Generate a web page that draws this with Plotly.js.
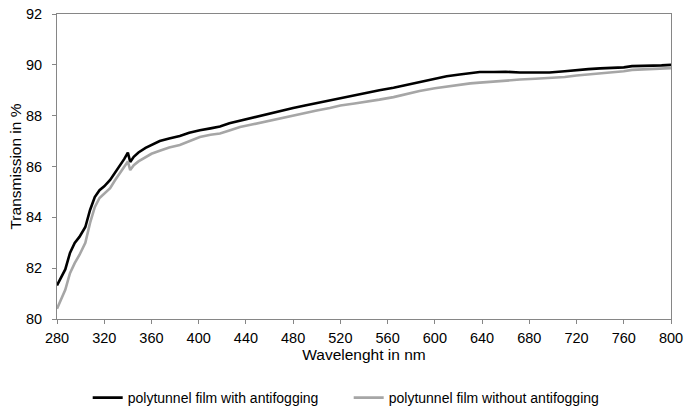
<!DOCTYPE html>
<html>
<head>
<meta charset="utf-8">
<script src="https://cdn.plot.ly/plotly-3.0.1.min.js"></script>
<style>html,body{margin:0;padding:0;background:#fff;}#chart{width:686px;height:410px;}</style>
</head>
<body>
<div id="chart"></div>
<script>
const wavelength = [280,283,287,291,295,299,304,308,312,316,320,325,329,333,337,340,342,345,349,355,360,367,375,384,392,401,410,418,426,435,445,455,469,480,490,500,511,520,532,545,553,565,575,587,600,610,621,630,638,650,660,672,685,697,710,720,730,740,750,760,767,775,785,792,800];
const withAntifogging = [81.32,81.6,81.95,82.6,82.99,83.23,83.62,84.29,84.8,85.07,85.22,85.47,85.75,86.0,86.3,86.55,86.18,86.38,86.55,86.73,86.85,87.0,87.1,87.2,87.33,87.43,87.5,87.57,87.7,87.8,87.92,88.05,88.2,88.3,88.4,88.5,88.6,88.7,88.8,88.92,89.0,89.1,89.2,89.32,89.45,89.55,89.62,89.68,89.72,89.72,89.73,89.7,89.7,89.7,89.75,89.8,89.83,89.86,89.88,89.9,89.95,89.95,89.97,89.98,90.0];
const withoutAntifogging = [80.4,80.75,81.15,81.8,82.2,82.52,83.0,83.78,84.4,84.76,84.95,85.15,85.45,85.74,86.0,86.2,85.86,86.05,86.2,86.37,86.5,86.62,86.75,86.85,87.0,87.16,87.25,87.3,87.42,87.55,87.65,87.75,87.92,88.0,88.1,88.2,88.3,88.4,88.48,88.56,88.63,88.73,88.85,88.97,89.08,89.15,89.2,89.27,89.3,89.35,89.38,89.42,89.45,89.48,89.52,89.58,89.62,89.65,89.7,89.75,89.8,89.82,89.83,89.85,89.87];
const xTicks = [280,320,360,400,440,480,520,560,600,640,680,720,760,800];
const yTicks = [80,82,84,86,88,90,92];
const seriesNames = ['polytunnel film with antifogging','polytunnel film without antifogging'];

const traces = [
  {x: wavelength, y: withAntifogging, type: 'scatter', mode: 'lines', name: seriesNames[0],
   line: {color: '#000000', width: 2.6}},
  {x: wavelength, y: withoutAntifogging, type: 'scatter', mode: 'lines', name: seriesNames[1],
   line: {color: '#a6a6a6', width: 2.6}}
];
const fontFam = 'Liberation Sans, Arial, sans-serif';
const layout = {
  width: 686, height: 410,
  margin: {l: 57, r: 15, t: 14, b: 91, autoexpand: false},
  paper_bgcolor: '#ffffff', plot_bgcolor: '#ffffff',
  font: {family: fontFam, size: 14, color: '#000'},
  showlegend: true,
  legend: {orientation: 'h', x: 0.05, xanchor: 'left', y: -0.259, yanchor: 'middle',
           font: {family: fontFam, size: 14, color: '#000'}, itemwidth: 30,
           entrywidth: 216, entrywidthmode: 'pixels', tracegroupgap: 0},
  xaxis: {range: [280, 800], tickvals: xTicks, ticktext: xTicks.map(String),
          showgrid: false, zeroline: false, showline: true, linecolor: '#868686', linewidth: 1,
          mirror: true, ticks: 'outside', ticklen: 4, tickcolor: '#868686',
          ticklabelstandoff: 2,
          tickfont: {family: fontFam, size: 14.5},
          title: {text: 'Wavelenght in nm', font: {family: fontFam, size: 15.5}, standoff: 3}},
  yaxis: {range: [80, 92], tickvals: yTicks, ticktext: yTicks.map(String),
          showgrid: false, zeroline: false, showline: true, linecolor: '#868686', linewidth: 1,
          mirror: true, ticks: 'outside', ticklen: 4, tickcolor: '#868686',
          ticklabelstandoff: 7,
          tickfont: {family: fontFam, size: 14.5},
          title: {text: 'Transmission in %', font: {family: fontFam, size: 15.5}, standoff: 0}}
};
Plotly.newPlot('chart', traces, layout, {displayModeBar: false, staticPlot: true});
</script>
</body>
</html>
